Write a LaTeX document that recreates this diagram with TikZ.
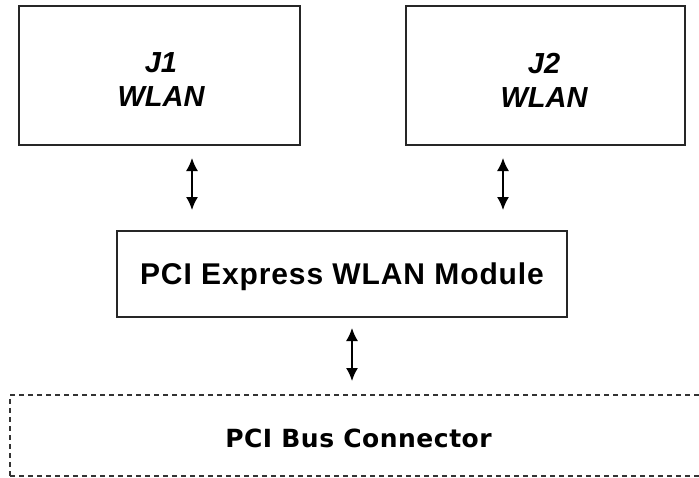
\documentclass[tikz,border=0pt]{standalone}
\usepackage{fontspec}
\setmainfont{Liberation Sans}
\newfontfamily\busfont[LetterSpace=2]{DejaVu Sans}
\newfontfamily\modfont[LetterSpace=3]{Liberation Sans}
\usetikzlibrary{arrows.meta}
\begin{document}
\begin{tikzpicture}[x=1pt,y=-1pt,
  blockbox/.style={draw=black!85,line width=1.6pt,inner sep=0pt},
  jtext/.style={align=center,font=\fontsize{29}{34}\selectfont\bfseries\itshape,inner sep=0pt},
  biarrow/.style={line width=1.5pt,{Latex[length=13pt,width=12pt]}-{Latex[length=13pt,width=12pt]}},
  dashbox/.style={draw=black!80,line width=1.5pt,dash pattern=on 5pt off 4pt}]
\useasboundingbox (0,0) rectangle (699,477);
\clip (0,0) rectangle (699,477);
% top blocks
\node[blockbox,minimum width=281pt,minimum height=139pt] (j1) at (159.5,75.5) {};
\node[jtext] (j1t) at (161,80) {J1\\WLAN};
\node[blockbox,minimum width=279pt,minimum height=139pt] (j2) at (545.5,75.5) {};
\node[jtext] (j2t) at (544,80) {J2\\WLAN};
% module
\node[blockbox,line width=1.4pt,minimum width=450pt,minimum height=86pt] (mod) at (342,274) {};
\node[inner sep=0pt,font=\modfont\fontsize{30}{34}\selectfont\bfseries] (modt) at (342,277) {PCI Express WLAN Module};
% bus connector
\node[dashbox,minimum width=700pt,minimum height=81pt,inner sep=0pt] (bus) at (360,435.5) {};
\node[inner sep=0pt,font=\busfont\fontsize{25}{30}\selectfont\bfseries] (bust) at (358.5,438) {PCI Bus Connector};
% arrows
\coordinate (a1t) at (192,158);
\coordinate (a1b) at (192,210);
\coordinate (a2t) at (503,158);
\coordinate (a2b) at (503,210);
\coordinate (a3t) at (352,328);
\coordinate (a3b) at (352,381);
\draw[biarrow] (a1t) -- (a1b);
\draw[biarrow] (a2t) -- (a2b);
\draw[biarrow] (a3t) -- (a3b);
\end{tikzpicture}
\end{document}
